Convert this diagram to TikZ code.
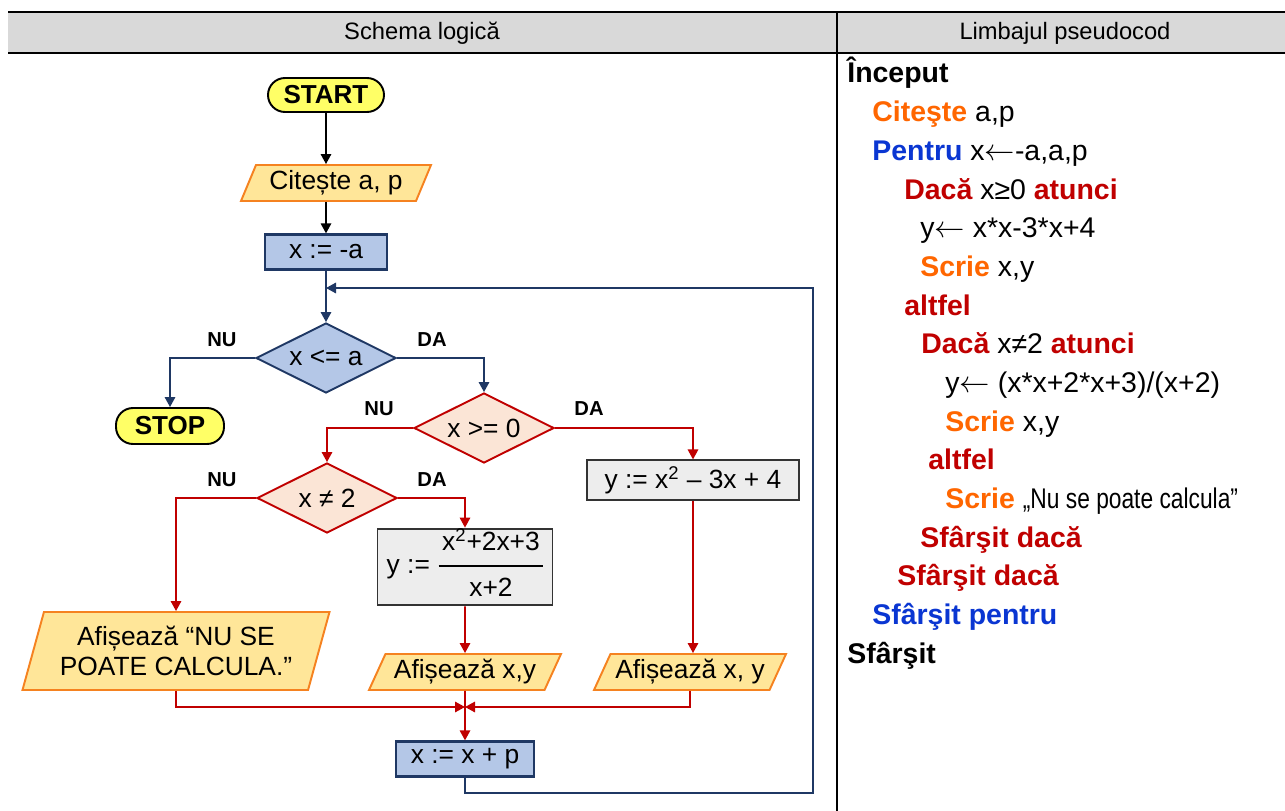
\documentclass[tikz,border=0pt]{standalone}
\usepackage{fontspec}
\setmainfont{Liberation Sans}
\usepackage{graphicx}
\usetikzlibrary{shapes.geometric, arrows.meta, positioning}
\definecolor{termyellow}{HTML}{FFFF66}
\definecolor{iofill}{HTML}{FFE699}
\definecolor{ioline}{HTML}{F58220}
\definecolor{procblue}{HTML}{B4C7E7}
\definecolor{navyline}{HTML}{1F3864}
\definecolor{decfill}{HTML}{FBE5D6}
\definecolor{darkred}{HTML}{C00000}
\definecolor{procgray}{HTML}{EDEDED}
\definecolor{headgray}{HTML}{D9D9D9}
\definecolor{kworange}{HTML}{FF6600}
\definecolor{kwblue}{HTML}{0A36D2}
\newcommand{\upx}{0.02cm}
\newcommand{\kwio}[1]{\textbf{\textcolor{kworange}{#1}}}
\newcommand{\kwloop}[1]{\textbf{\textcolor{kwblue}{#1}}}
\newcommand{\kwif}[1]{\textbf{\textcolor{darkred}{#1}}}
\newcommand{\assign}{$\leftarrow$}
\setlength{\arrayrulewidth}{1pt}
\tikzset{
  term/.style={draw=black, fill=termyellow, line width=1.1pt, rounded corners=0.34cm, font=\fontsize{14.8}{17}\selectfont\bfseries, inner sep=0pt},
  iobox/.style={trapezium, trapezium left angle=62, trapezium right angle=118, trapezium stretches body, draw=ioline, fill=iofill, line width=1.1pt, minimum height=36*\upx, inner sep=1pt, font=\fontsize{15}{17}\selectfont},
  bluebox/.style={draw=navyline, fill=procblue, line width=1.3pt, minimum height=35*\upx, font=\fontsize{15}{17}\selectfont},
  graybox/.style={draw=black!80, fill=procgray, line width=1.1pt, minimum height=36*\upx, font=\fontsize{15}{17}\selectfont},
  decblue/.style={diamond, aspect=2, draw=navyline, fill=procblue, line width=1.1pt, minimum width=140*\upx, minimum height=70*\upx, inner sep=0pt, font=\fontsize{15}{17}\selectfont},
  decred/.style={diamond, aspect=2, draw=darkred, fill=decfill, line width=1.1pt, minimum width=140*\upx, minimum height=70*\upx, inner sep=0pt, font=\fontsize{15}{17}\selectfont},
  lab/.style={font=\fontsize{11.5}{13}\selectfont\bfseries},
  arr/.style={line width=0.9pt, -{Triangle[length=2mm, width=2.1mm]}},
  code/.style={anchor=base west, inner sep=0pt, font=\fontsize{16.2}{19}\selectfont},
}
\begin{document}
\begin{tikzpicture}[x=\upx, y=-\upx]
\useasboundingbox (0,0) rectangle (1285,811);

% table head
\fill[headgray] (8,12) rectangle (1285,53);
\draw[line width=1.7pt] (8,12) -- (1285,12);
\draw[line width=1.7pt] (8,53) -- (1285,53);
\draw[line width=1.5pt] (837,12) -- (837,811);
\node[font=\fontsize{13.5}{16}\selectfont] (hleft) at (422,33) {Schema logică};
\node[font=\fontsize{13.5}{16}\selectfont] (hright) at (1065,33) {Limbajul pseudocod};

% flowchart
\node[term, minimum width=116*\upx, minimum height=34*\upx] (start) at (326,95) {START};
\node[iobox, minimum width=190*\upx] (cit) at (336,183) {Citește a, p};
\node[bluebox, minimum width=122*\upx] (xa) at (326,252) {x := -a};
\node[decblue] (d1) at (326,358) {x <= a};
\node[term, minimum width=108*\upx, minimum height=36*\upx] (stop) at (170,426) {STOP};
\node[decred] (d2) at (484,428) {x >= 0};
\node[graybox, minimum width=212*\upx] (yg) at (693,480) {y := x\textsuperscript{2} – 3x + 4};
\node[decred] (d3) at (327,498) {x ≠ 2};
\node[graybox, minimum width=175*\upx, minimum height=71*\upx, inner sep=0pt] (yfrac) at (465,567)
  {y :=\hspace{5pt}\begin{tabular}{@{\hspace{2pt}}c@{\hspace{2pt}}}x\textsuperscript{2}+2x+3\\[3pt]\hline\rule{0pt}{17pt}x+2\end{tabular}};
\node[iobox, trapezium left angle=68, trapezium right angle=112, minimum width=307*\upx, minimum height=78*\upx, align=center] (nse) at (176,651) {Afișează “NU SE\\POATE CALCULA.”};
\node[iobox, trapezium left angle=60, trapezium right angle=120, minimum width=192*\upx] (af1) at (465,672) {Afișează x,y};
\node[iobox, trapezium left angle=60, trapezium right angle=120, minimum width=192*\upx] (af2) at (690,672) {Afișează x, y};
\node[bluebox, minimum width=138*\upx] (xp) at (465,759) {x := x + p};

\coordinate (join) at (326,288);
\coordinate (merge) at (465,707);
\coordinate (loopcorner) at (813,793);

\node[lab] (nu1) at (222,340) {NU};
\node[lab] (da1) at (432,340) {DA};
\node[lab] (nu2) at (379,409) {NU};
\node[lab] (da2) at (589,409) {DA};
\node[lab] (nu3) at (222,480) {NU};
\node[lab] (da3) at (432,480) {DA};

\draw[arr] (start) -- (start |- cit.north);
\draw[arr] (start |- cit.south) -- (xa);
\draw[arr, navyline] (xa) -- (d1);
\draw[arr, navyline] (d1.west) -| (stop.north);
\draw[arr, navyline] (d1.east) -| (d2.north);
\draw[arr, darkred] (d2.west) -| (d3.north);
\draw[arr, darkred] (d2.east) -| (yg.north);
\draw[arr, darkred] (d3.west) -| (nse.north);
\draw[arr, darkred] (d3.east) -| (yfrac.north);
\draw[arr, darkred] (yfrac) -- (af1);
\draw[arr, darkred] (yg) -- (yg |- af2.north);
\draw[arr, darkred] (nse.south) |- (merge);
\draw[arr, darkred] (af2.south) |- (merge);
\draw[arr, darkred] (af1) -- (xp);
\draw[arr, navyline] (xp.south) |- (loopcorner) |- (join);

% pseudocode
\node[code] (p1) at (847,83) {\textbf{Început}};
\node[code] (p2) at (872,121.7) {\kwio{Citeşte} a,p};
\node[code] (p3) at (872,160.3) {\kwloop{Pentru} x\assign-a,a,p};
\node[code] (p4) at (904,199) {\kwif{Dacă} x≥0 \kwif{atunci}};
\node[code] (p5) at (920,237.7) {y\assign\ x*x-3*x+4};
\node[code] (p6) at (920,276.3) {\kwio{Scrie} x,y};
\node[code] (p7) at (904,315) {\kwif{altfel}};
\node[code] (p8) at (921,353.7) {\kwif{Dacă} x≠2 \kwif{atunci}};
\node[code] (p9) at (945,392.4) {y\assign\ (x*x+2*x+3)/(x+2)};
\node[code] (p10) at (945,431) {\kwio{Scrie} x,y};
\node[code] (p11) at (928,469.7) {\kwif{altfel}};
\node[code] (p12) at (945,508.4) {\kwio{Scrie} \scalebox{0.8}[1]{„Nu se poate calcula”}};
\node[code] (p13) at (920,547) {\kwif{Sfârşit dacă}};
\node[code] (p14) at (897,585.7) {\kwif{Sfârşit dacă}};
\node[code] (p15) at (872,624.4) {\kwloop{Sfârşit pentru}};
\node[code] (p16) at (847,663) {\textbf{Sfârşit}};
\end{tikzpicture}
\end{document}
